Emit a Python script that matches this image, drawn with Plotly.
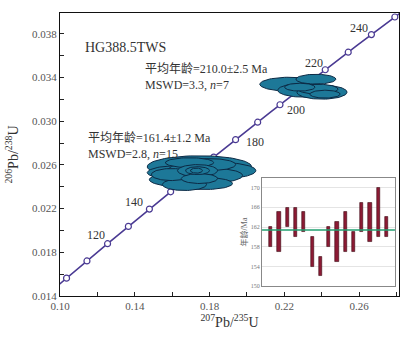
import numpy as np
import plotly.graph_objects as go

# U decay constants (per Ma)
LAMBDA_238 = 1.55125e-4
LAMBDA_235 = 9.8485e-4

# concordia ticks (Ma) and the ones that carry a label
marker_ages = [100, 110, 120, 130, 140, 150, 160, 170, 180, 190, 200, 210, 220, 230, 240, 250]
label_ages = [120, 140, 180, 200, 220, 240]
label_dx = [-12, -15, 19, 16, -11, -12]
label_dy = [9, 7, -2, -5, 7, 7]

# error ellipses, younger group (n=15): centre x/y and half axes
g1_cx = [0.1746, 0.1693, 0.1865, 0.1639, 0.1736, 0.1827, 0.1773, 0.1800, 0.1693, 0.1666, 0.1596, 0.1736, 0.1746, 0.1736, 0.1730]
g1_cy = [0.02584, 0.02466, 0.02548, 0.02530, 0.02548, 0.02503, 0.02430, 0.02603, 0.02621, 0.02421, 0.02512, 0.02548, 0.02475, 0.02548, 0.02548]
g1_rx = [0.0279, 0.0215, 0.0183, 0.0172, 0.0161, 0.0150, 0.0150, 0.0140, 0.0129, 0.0118, 0.0107, 0.0107, 0.0097, 0.0064, 0.0032]
g1_ry = [0.00100, 0.00073, 0.00073, 0.00064, 0.00073, 0.00064, 0.00055, 0.00055, 0.00045, 0.00055, 0.00055, 0.00055, 0.00045, 0.00036, 0.00023]

# error ellipses, older group (n=7)
g2_cx = [0.2230, 0.2310, 0.2402, 0.2369, 0.2380, 0.2283, 0.2418]
g2_cy = [0.03339, 0.03284, 0.03266, 0.03385, 0.03294, 0.03312, 0.03248]
g2_rx = [0.0161, 0.0145, 0.0134, 0.0107, 0.0107, 0.0081, 0.0081]
g2_ry = [0.00064, 0.00064, 0.00064, 0.00045, 0.00045, 0.00036, 0.00036]

# weighted-mean inset: 206Pb/238U ages with error bars (Ma)
spot_low = [158, 157, 162, 160, 161, 154, 152, 158, 155, 157, 157, 161, 159, 160, 160]
spot_high = [162, 165, 166, 166, 165, 160, 156, 162, 163, 165, 161, 167, 167, 170, 164]
mean_age = 161.4
mean_err = 1.2

SERIF = "Liberation Serif, Times New Roman, Noto Sans CJK SC, serif"
LINE_COL = "#4a3a93"
FILL_COL = "#1d7898"
EDGE_COL = "#0c2a45"

fig = go.Figure()

# concordia curve with 10 Ma ticks (drawn first, ellipses sit on top)
t = np.linspace(90, 262, 400)
fig.add_trace(go.Scatter(x=np.exp(LAMBDA_235 * t) - 1, y=np.exp(LAMBDA_238 * t) - 1,
                         mode="lines", line=dict(color=LINE_COL, width=1.6),
                         showlegend=False, hoverinfo="skip"))
ma = np.array(marker_ages, dtype=float)
fig.add_trace(go.Scatter(x=np.exp(LAMBDA_235 * ma) - 1, y=np.exp(LAMBDA_238 * ma) - 1,
                         mode="markers",
                         marker=dict(symbol="circle", size=6, color="white",
                                     line=dict(color=LINE_COL, width=1.2)),
                         showlegend=False))


def ellipse(cx, cy, rx, ry, n=80):
    th = np.linspace(0, 2 * np.pi, n)
    return cx + rx * np.cos(th), cy + ry * np.sin(th)


for cxs, cys, rxs, rys in [(g1_cx, g1_cy, g1_rx, g1_ry), (g2_cx, g2_cy, g2_rx, g2_ry)]:
    for cx, cy, rx, ry in zip(cxs, cys, rxs, rys):
        ex, ey = ellipse(cx, cy, rx, ry)
        fig.add_trace(go.Scatter(x=ex, y=ey, mode="lines", fill="toself",
                                 fillcolor=FILL_COL, line=dict(color=EDGE_COL, width=1),
                                 hoverinfo="skip", showlegend=False))

for a, dx, dy in zip(label_ages, label_dx, label_dy):
    fig.add_annotation(x=np.exp(LAMBDA_235 * a) - 1, y=np.exp(LAMBDA_238 * a) - 1,
                       text=str(a), showarrow=False, xshift=dx, yshift=dy,
                       font=dict(family=SERIF, size=12, color="#333"))

# inset: individual ages
idx = list(range(1, len(spot_low) + 1))
fig.add_trace(go.Bar(x=idx, y=[h - l for l, h in zip(spot_low, spot_high)], base=spot_low,
                     width=0.38, marker=dict(color="#8c1a34", line=dict(color="#3b0812", width=0.6)),
                     xaxis="x2", yaxis="y2", showlegend=False))

fig.add_shape(type="rect", xref="x2 domain", yref="y2", x0=0, x1=1,
              y0=mean_age - 0.45, y1=mean_age + 0.45, fillcolor="rgba(140,215,190,0.7)",
              line=dict(width=0), layer="below")
fig.add_shape(type="line", xref="x2 domain", yref="y2", x0=0, x1=1,
              y0=mean_age, y1=mean_age, line=dict(color="#22a070", width=1.6))

fig.add_annotation(xref="paper", yref="paper", x=0.068, y=0.91, xanchor="left",
                   text="HG388.5TWS", showarrow=False,
                   font=dict(family=SERIF, size=14, color="#333"))
fig.add_annotation(xref="paper", yref="paper", x=0.245, y=0.775, xanchor="left", yanchor="middle",
                   text="平均年龄=210.0±2.5 Ma<br>MSWD=3.3, <i>n</i>=7", align="left",
                   showarrow=False, font=dict(family=SERIF, size=12, color="#333"))
fig.add_annotation(xref="paper", yref="paper", x=0.078, y=0.53, xanchor="left", yanchor="middle",
                   text="平均年龄=%.1f±%.1f Ma<br>MSWD=2.8, <i>n</i>=15" % (mean_age, mean_err),
                   align="left", showarrow=False, font=dict(family=SERIF, size=12, color="#333"))

axis_font = dict(family=SERIF, size=11, color="#555")
fig.update_layout(
    width=413, height=338,
    margin=dict(l=60, r=14, t=13, b=40),
    paper_bgcolor="white", plot_bgcolor="white",
    xaxis=dict(range=[0.10, 0.2814], tick0=0.10, dtick=0.04, tickformat=".2f",
               ticks="inside", ticklen=4, tickcolor="#222",
               minor=dict(dtick=0.02, ticks="inside", ticklen=4, tickcolor="#222"),
               showline=True, linecolor="#111", linewidth=1.2, mirror=True,
               showgrid=False, zeroline=False, tickfont=axis_font,
               title=dict(text="<sup>207</sup>Pb/<sup>235</sup>U", standoff=4,
                          font=dict(family=SERIF, size=14, color="#333"))),
    yaxis=dict(range=[0.014, 0.03991], tick0=0.014, dtick=0.004, tickformat=".3f",
               ticks="inside", ticklen=4, tickcolor="#222",
               minor=dict(dtick=0.002, ticks="inside", ticklen=4, tickcolor="#222"),
               showline=True, linecolor="#111", linewidth=1.2, mirror=True,
               showgrid=False, zeroline=False, tickfont=axis_font,
               title=dict(text="<sup>206</sup>Pb/<sup>238</sup>U", standoff=10,
                          font=dict(family=SERIF, size=14, color="#333"))),
    xaxis2=dict(domain=[0.596, 0.988], anchor="y2", range=[-0.05, 16],
                showticklabels=False, ticks="", showgrid=False, zeroline=False,
                showline=True, linecolor="#888", linewidth=1, mirror=True),
    yaxis2=dict(domain=[0.035, 0.4175], anchor="x2", range=[150, 172],
                tick0=150, dtick=4, ticks="", showgrid=True, gridcolor="#e4e4e4",
                zeroline=False, showline=True, linecolor="#888", linewidth=1, mirror=True,
                tickfont=dict(family=SERIF, size=6, color="#777"),
                title=dict(text="年龄/Ma", standoff=2,
                           font=dict(family=SERIF, size=8, color="#666"))),
    bargap=0,
)

# opaque background for the inset panel
fig.add_shape(type="rect", xref="x2 domain", yref="y2 domain", x0=0, x1=1, y0=0, y1=1,
              fillcolor="white", line=dict(width=0), layer="below")

fig.write_html("out.html")
